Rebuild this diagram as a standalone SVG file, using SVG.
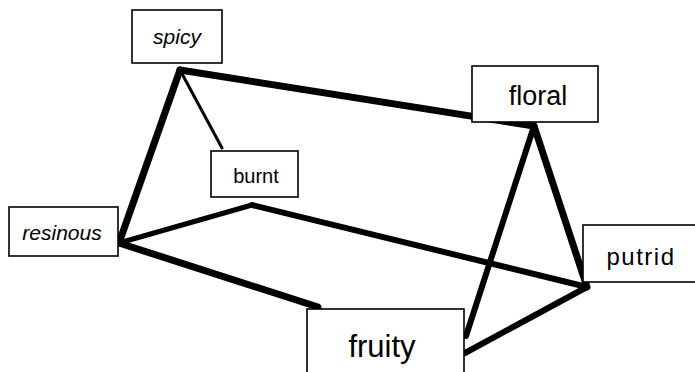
<svg xmlns="http://www.w3.org/2000/svg" width="695" height="372" viewBox="0 0 695 372">
<style>
.e{stroke:#000;stroke-linecap:round;fill:none}
.b{fill:#fff;stroke:#000;stroke-width:1.6}
.t{font-family:"Liberation Sans",Arial,sans-serif;fill:#000;text-anchor:middle}
.i{font-style:italic}
</style>
<rect width="695" height="372" fill="#fff"/>
<g id="connectors">
<line class="e" x1="180" y1="70" x2="534" y2="126" stroke-width="7"/>
<line class="e" x1="180" y1="70" x2="119" y2="243" stroke-width="7"/>
<line class="e" x1="180" y1="70" x2="222" y2="148" stroke-width="3"/>
<line class="e" x1="119" y1="243" x2="252" y2="205" stroke-width="5"/>
<line class="e" x1="252" y1="205" x2="587" y2="287" stroke-width="6"/>
<line class="e" x1="119" y1="243" x2="318" y2="307" stroke-width="7"/>
<line class="e" x1="534" y1="126" x2="466" y2="336" stroke-width="6"/>
<line class="e" x1="534" y1="126" x2="587" y2="287" stroke-width="7"/>
<line class="e" x1="587" y1="287" x2="465" y2="353" stroke-width="6"/>
</g>
<g id="spicy"><rect class="b" x="132" y="10" width="90" height="53"/><text class="t i" x="177" y="44" font-size="21">spicy</text></g>
<g id="burnt"><rect class="b" x="211" y="151" width="87" height="46"/><text class="t" x="256" y="183" font-size="20">burnt</text></g>
<g id="floral"><rect class="b" x="472" y="66" width="126" height="56"/><text class="t" x="538" y="105" font-size="27">floral</text></g>
<g id="resinous"><rect class="b" x="9" y="207" width="109" height="49"/><text class="t i" x="62" y="240" font-size="21">resinous</text></g>
<g id="putrid"><rect class="b" x="583" y="225" width="115" height="57"/><text class="t" x="641" y="265" font-size="24" letter-spacing="1.5">putrid</text></g>
<g id="fruity"><rect class="b" x="307" y="309" width="157" height="70"/><text class="t" x="382" y="357" font-size="31">fruity</text></g>
</svg>
